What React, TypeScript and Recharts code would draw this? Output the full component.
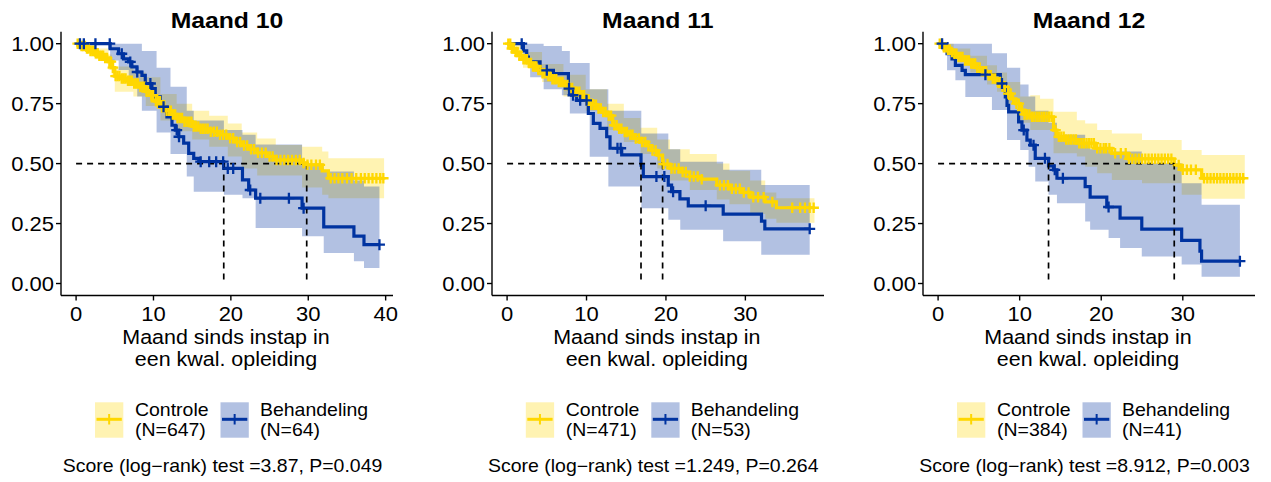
import React from "react";
import { ComposedChart, Line, Area, XAxis, YAxis } from "recharts";

const YELLOW = "#FFD700";
const BLUE = "#0033A0";
const FONT = "'Liberation Sans', Arial, Helvetica, sans-serif";
const SX = 1.1; // the reference text is drawn slightly wide

const yTicks = [0, 0.25, 0.5, 0.75, 1];

// ---------- Maand 10 ----------
const m10CtrlT = [0, 0.6, 1.2, 1.8, 2.4, 3.0, 3.6, 4.2, 4.6, 5.0, 5.8, 6.6, 7.4, 8.2, 9.0, 9.6, 10.2, 10.9, 11.6, 12.3, 13.0, 14.0, 15.0, 16.0, 17.2, 18.4, 19.6, 20.6, 21.4, 22.4, 23.4, 24.6, 25.8, 29.2, 29.8, 31.8, 32.6, 39.8];
const m10CtrlS = [1, 0.99, 0.98, 0.97, 0.96, 0.95, 0.94, 0.925, 0.9, 0.865, 0.855, 0.845, 0.834, 0.82, 0.8, 0.785, 0.76, 0.735, 0.72, 0.705, 0.69, 0.675, 0.655, 0.645, 0.633, 0.62, 0.606, 0.59, 0.575, 0.56, 0.545, 0.53, 0.515, 0.503, 0.495, 0.47, 0.439, 0.439];
const m10CtrlBandT = [0, 0.6, 2.4, 4.2, 4.6, 5.0, 7.4, 9.0, 10.9, 13.0, 15.0, 17.2, 19.6, 21.4, 23.4, 25.8, 29.2, 31.8, 32.6, 39.8];
const m10CtrlLo = [1, 0.97, 0.935, 0.89, 0.86, 0.8, 0.78, 0.74, 0.68, 0.635, 0.6, 0.57, 0.53, 0.48, 0.45, 0.45, 0.4, 0.37, 0.355, 0.355];
const m10CtrlHi = [1, 1, 0.98, 0.955, 0.935, 0.905, 0.88, 0.86, 0.79, 0.75, 0.72, 0.7, 0.667, 0.63, 0.605, 0.578, 0.57, 0.55, 0.522, 0.522];
const m10CtrlCens = [0.2, 0.45, 0.7, 0.9, 1.15, 1.4, 1.6, 1.85, 2.1, 2.3, 2.55, 2.8, 3.0, 3.25, 3.5, 3.75, 4.0, 4.3, 4.5, 4.75, 5.1, 5.35, 5.6, 5.9, 6.15, 6.4, 6.7, 6.95, 7.2, 7.5, 7.75, 8.0, 8.3, 8.6, 8.85, 9.1, 9.4, 9.7, 9.95, 10.3, 10.6, 10.85, 11.1, 11.4, 11.7, 12.0, 12.25, 12.5, 12.8, 13.1, 13.4, 13.7, 14.0, 14.3, 14.6, 14.9, 15.2, 15.5, 15.8, 16.1, 16.4, 16.7, 17.0, 17.4, 17.8, 18.2, 18.6, 19.0, 19.4, 19.9, 20.3, 20.8, 21.2, 21.7, 22.1, 22.6, 23.0, 23.5, 24.0, 24.5, 25.0, 25.4, 25.9, 26.4, 26.9, 27.4, 27.9, 28.4, 28.9, 29.4, 29.9, 30.4, 31.0, 31.5, 32.9, 33.4, 33.9, 34.4, 35.0, 35.6, 36.2, 36.8, 37.3, 37.8, 38.3, 38.8, 39.3, 39.7];

const m10TrtT = [0, 4.4, 5.48, 6.13, 6.78, 7.21, 7.86, 8.51, 8.94, 9.8, 10.23, 10.88, 11.74, 12.39, 12.82, 13.26, 13.9, 14.55, 15.2, 15.85, 19.08, 21.5, 22.3, 23.2, 29.2, 32.0, 35.9, 37.2, 39.2];
const m10TrtS = [1, 0.979, 0.958, 0.937, 0.924, 0.903, 0.882, 0.868, 0.834, 0.813, 0.778, 0.737, 0.695, 0.66, 0.64, 0.612, 0.585, 0.543, 0.522, 0.508, 0.48, 0.432, 0.39, 0.356, 0.314, 0.236, 0.198, 0.162, 0.162];
const m10TrtBandT = [0, 4.4, 5.5, 6.8, 7.9, 8.5, 10.4, 12.2, 14.3, 15.2, 19.1, 21.5, 23.2, 29.2, 32.0, 35.9, 37.2, 39.2];
const m10TrtLo = [1, 0.93, 0.89, 0.84, 0.78, 0.72, 0.63, 0.54, 0.446, 0.383, 0.37, 0.356, 0.231, 0.197, 0.127, 0.093, 0.065, 0.065];
const m10TrtHi = [1, 1, 1, 1, 1, 0.97, 0.9, 0.82, 0.72, 0.68, 0.64, 0.62, 0.58, 0.5, 0.467, 0.43, 0.404, 0.404];
const m10TrtCens = [0.5, 1.0, 2.5, 4.35, 5.9, 7.0, 7.9, 9.6, 11.3, 13.0, 13.3, 16.1, 17.2, 18.1, 19.0, 19.6, 20.3, 22.5, 23.8, 27.5, 29.4, 39.2];

// ---------- Maand 11 ----------
const m11CtrlT = [0, 0.5, 1.0, 1.5, 2.0, 2.6, 3.2, 3.8, 4.4, 5.0, 5.7, 6.4, 7.1, 7.8, 8.5, 9.2, 9.9, 10.6, 11.3, 12.0, 12.6, 13.3, 14.0, 14.7, 15.4, 16.1, 16.8, 17.5, 18.2, 18.9, 19.58, 20.5, 22.0, 23.0, 24.5, 26.4, 28.0, 29.5, 30.6, 32.5, 33.9, 38.7];
const m11CtrlS = [1, 0.98, 0.965, 0.95, 0.935, 0.92, 0.905, 0.89, 0.877, 0.865, 0.852, 0.84, 0.828, 0.815, 0.8, 0.785, 0.765, 0.745, 0.73, 0.715, 0.7, 0.66, 0.645, 0.632, 0.62, 0.605, 0.59, 0.575, 0.555, 0.535, 0.498, 0.48, 0.465, 0.446, 0.435, 0.41, 0.395, 0.38, 0.36, 0.34, 0.316, 0.316];
const m11CtrlBandT = [0, 0.5, 2.0, 4.4, 7.1, 9.9, 12.6, 14.7, 16.8, 18.9, 20.5, 23.0, 26.4, 28.0, 30.6, 32.5, 33.9, 38.7];
const m11CtrlLo = [1, 0.96, 0.9, 0.84, 0.78, 0.72, 0.64, 0.59, 0.54, 0.48, 0.43, 0.39, 0.35, 0.33, 0.29, 0.27, 0.253, 0.253];
const m11CtrlHi = [1, 1, 0.965, 0.915, 0.87, 0.81, 0.75, 0.69, 0.65, 0.6, 0.56, 0.54, 0.5, 0.47, 0.43, 0.38, 0.356, 0.356];
const m11CtrlCens = [0.15, 0.4, 0.6, 0.85, 1.1, 1.3, 1.55, 1.8, 2.05, 2.3, 2.5, 2.75, 3.0, 3.25, 3.5, 3.7, 3.95, 4.2, 4.45, 4.7, 4.95, 5.2, 5.45, 5.7, 5.95, 6.2, 6.5, 6.75, 7.0, 7.3, 7.6, 7.9, 8.2, 8.5, 8.8, 9.1, 9.4, 9.7, 10.0, 10.3, 10.6, 10.9, 11.2, 11.5, 11.8, 12.1, 12.4, 12.8, 13.1, 13.5, 13.8, 14.1, 14.4, 14.8, 15.1, 15.5, 15.8, 16.2, 16.6, 17.0, 17.4, 17.8, 18.3, 18.7, 19.1, 19.7, 20.2, 20.7, 21.1, 21.6, 22.1, 22.5, 23.0, 23.5, 24.0, 24.5, 26.8, 27.3, 27.8, 28.3, 28.8, 29.3, 29.8, 30.4, 31.0, 31.6, 32.3, 33.4, 35.9, 36.9, 37.5, 38.1, 38.6];

const m11TrtT = [0, 2.05, 2.47, 2.68, 4.15, 5.83, 7.72, 8.13, 8.76, 10.23, 10.86, 11.7, 12.54, 12.96, 14.43, 16.86, 17.15, 20.29, 20.71, 21.76, 22.81, 27.21, 32.03, 32.45, 38.1];
const m11TrtS = [1, 0.97, 0.944, 0.924, 0.889, 0.875, 0.813, 0.785, 0.764, 0.709, 0.668, 0.647, 0.612, 0.564, 0.536, 0.494, 0.446, 0.41, 0.383, 0.353, 0.324, 0.289, 0.26, 0.228, 0.228];
const m11TrtBandT = [0, 2.05, 2.9, 4.6, 6.9, 7.9, 10.4, 12.75, 16.9, 20.3, 21.8, 27.2, 32.0, 38.1];
const m11TrtLo = [1, 0.93, 0.86, 0.81, 0.785, 0.709, 0.529, 0.404, 0.314, 0.266, 0.224, 0.176, 0.12, 0.12];
const m11TrtHi = [1, 1, 1, 0.99, 0.97, 0.92, 0.81, 0.72, 0.625, 0.56, 0.508, 0.474, 0.411, 0.411];
const m11TrtCens = [1.84, 5.0, 7.8, 8.3, 9.2, 10.0, 13.9, 14.3, 18.8, 19.8, 20.9, 25.0, 38.1];

// ---------- Maand 12 ----------
const m12CtrlT = [0, 0.5, 1.0, 1.5, 1.91, 2.5, 3.2, 3.95, 4.6, 5.3, 6.0, 6.6, 7.22, 7.8, 8.45, 9.0, 9.5, 10.07, 10.6, 11.3, 14.15, 14.57, 15.5, 17.01, 19.25, 21.3, 23.33, 28.95, 29.86, 32.31, 37.6];
const m12CtrlS = [1, 0.985, 0.975, 0.965, 0.958, 0.945, 0.93, 0.917, 0.9, 0.885, 0.868, 0.855, 0.84, 0.82, 0.792, 0.77, 0.75, 0.723, 0.705, 0.695, 0.64, 0.612, 0.6, 0.585, 0.564, 0.543, 0.52, 0.494, 0.474, 0.439, 0.439];
const m12CtrlBandT = [0, 0.5, 1.91, 3.95, 6.0, 7.22, 8.45, 10.07, 11.3, 12.5, 14.15, 17.01, 18.03, 19.5, 21.3, 25.0, 29.86, 32.31, 37.6];
const m12CtrlLo = [1, 0.97, 0.93, 0.88, 0.83, 0.8, 0.75, 0.67, 0.64, 0.64, 0.543, 0.53, 0.487, 0.46, 0.432, 0.418, 0.37, 0.353, 0.353];
const m12CtrlHi = [1, 1, 0.98, 0.95, 0.91, 0.88, 0.84, 0.78, 0.785, 0.77, 0.716, 0.681, 0.667, 0.64, 0.626, 0.598, 0.557, 0.536, 0.536];
const m12CtrlCens = [0.2, 0.45, 0.7, 0.95, 1.2, 1.45, 1.7, 2.0, 2.25, 2.5, 2.75, 3.0, 3.3, 3.55, 3.8, 4.05, 4.3, 4.55, 4.8, 5.1, 5.35, 5.6, 5.9, 6.2, 6.45, 6.7, 7.0, 7.3, 7.6, 7.9, 8.2, 8.6, 8.9, 9.2, 9.6, 9.9, 10.3, 10.6, 10.9, 11.2, 11.5, 11.8, 12.1, 12.4, 12.7, 13.0, 13.3, 13.6, 13.9, 14.4, 14.8, 15.1, 15.4, 15.7, 16.0, 16.3, 16.6, 16.9, 17.3, 17.6, 17.9, 18.2, 18.5, 18.8, 19.1, 19.5, 19.9, 20.3, 20.6, 21.0, 21.7, 22.4, 23.0, 23.4, 23.8, 24.2, 24.6, 25.0, 25.4, 25.8, 26.2, 26.6, 27.0, 27.4, 27.8, 28.2, 28.6, 29.5, 30.0, 30.5, 31.0, 31.6, 32.6, 33.0, 33.4, 33.8, 34.2, 34.6, 35.0, 35.4, 35.8, 36.2, 36.6, 37.0, 37.4];

const m12TrtT = [0, 1.1, 1.71, 2.12, 2.94, 3.34, 7.63, 8.24, 8.45, 8.65, 9.87, 10.28, 10.89, 11.3, 11.91, 13.54, 14.15, 14.57, 18.03, 18.64, 20.68, 22.31, 24.97, 29.86, 32.1, 32.3, 37.0];
const m12TrtS = [1, 0.958, 0.937, 0.91, 0.889, 0.871, 0.834, 0.778, 0.743, 0.716, 0.674, 0.64, 0.598, 0.577, 0.522, 0.49, 0.474, 0.439, 0.404, 0.36, 0.319, 0.273, 0.227, 0.18, 0.135, 0.093, 0.093];
const m12TrtBandT = [0, 1.1, 2.12, 3.34, 6.6, 8.45, 10.07, 11.09, 11.91, 13.54, 14.57, 18.03, 18.64, 20.9, 22.31, 24.97, 29.86, 32.3, 37.0];
const m12TrtLo = [1, 0.889, 0.848, 0.778, 0.723, 0.598, 0.557, 0.487, 0.425, 0.37, 0.335, 0.259, 0.224, 0.19, 0.148, 0.113, 0.079, 0.028, 0.028];
const m12TrtHi = [1, 1, 1, 1, 0.96, 0.9, 0.83, 0.78, 0.72, 0.67, 0.62, 0.58, 0.56, 0.55, 0.55, 0.501, 0.418, 0.328, 0.328];
const m12TrtCens = [0.49, 5.8, 7.83, 10.5, 11.7, 13.1, 14.3, 15.3, 20.9, 37.0];

const panelTitles = ["Maand 10", "Maand 11", "Maand 12"];
const ctrlN = [647, 471, 384];
const trtN = [64, 53, 41];
const scoreTexts = [
  "Score (log\u2212rank) test =3.87, P=0.049",
  "Score (log\u2212rank) test =1.249, P=0.264",
  "Score (log\u2212rank) test =8.912, P=0.003",
];
const xTicksByPanel = [[0, 10, 20, 30, 40], [0, 10, 20, 30], [0, 10, 20, 30]];
const xDomains = [[-1.95, 40.95], [-1.9, 39.9], [-1.85, 38.85]];
const panelOffsets = [0, 430.8, 862];

type Group = { t: number[]; s: number[]; bandT: number[]; lo: number[]; hi: number[]; cens: number[] };

const groups: { ctrl: Group; trt: Group }[] = [
  {
    ctrl: { t: m10CtrlT, s: m10CtrlS, bandT: m10CtrlBandT, lo: m10CtrlLo, hi: m10CtrlHi, cens: m10CtrlCens },
    trt: { t: m10TrtT, s: m10TrtS, bandT: m10TrtBandT, lo: m10TrtLo, hi: m10TrtHi, cens: m10TrtCens },
  },
  {
    ctrl: { t: m11CtrlT, s: m11CtrlS, bandT: m11CtrlBandT, lo: m11CtrlLo, hi: m11CtrlHi, cens: m11CtrlCens },
    trt: { t: m11TrtT, s: m11TrtS, bandT: m11TrtBandT, lo: m11TrtLo, hi: m11TrtHi, cens: m11TrtCens },
  },
  {
    ctrl: { t: m12CtrlT, s: m12CtrlS, bandT: m12CtrlBandT, lo: m12CtrlLo, hi: m12CtrlHi, cens: m12CtrlCens },
    trt: { t: m12TrtT, s: m12TrtS, bandT: m12TrtBandT, lo: m12TrtLo, hi: m12TrtHi, cens: m12TrtCens },
  },
];

// survival value of a step curve at time t
const stepAt = (ts: number[], ss: number[], t: number) => {
  let v = ss[0];
  for (let i = 0; i < ts.length; i++) if (ts[i] <= t) v = ss[i];
  return v;
};
const medianOf = (g: Group) => g.t[g.s.findIndex((s) => s <= 0.5)];

const lineData = (g: Group) => g.t.map((t, i) => ({ t, s: g.s[i] }));
const bandData = (g: Group) => g.bandT.map((t, i) => ({ t, range: [g.lo[i], g.hi[i]] }));
const censData = (g: Group) => g.cens.map((t) => ({ t, s: stepAt(g.t, g.s, t) }));

// layout
const PLOT_LEFT = 61;
const PLOT_W = 332;
const PLOT_TOP = 31.7;
const PLOT_H = 263.8;
const Y_AXIS_W = 55;
const X_AXIS_H = 30;
const CHART_H = 340;

const plus = (color: string, size: number, width: number) => (props: any) => {
  const { cx, cy, index } = props;
  if (cx == null || cy == null) return <g key={`n${index}`} />;
  const h = size / 2;
  return (
    <path
      key={`c${index}`}
      d={`M${cx - h},${cy}H${cx + h}M${cx},${cy - h}V${cy + h}`}
      stroke={color}
      strokeWidth={width}
      fill="none"
    />
  );
};

const XTick = (props: any) => {
  const { x, y, payload } = props;
  return (
    <text
      transform={`translate(${x},${y + 18}) scale(${SX},1)`}
      textAnchor="middle"
      fontSize={20}
      fontFamily={FONT}
      fill="#000"
    >
      {payload.value}
    </text>
  );
};

const YTick = (props: any) => {
  const { x, y, payload } = props;
  return (
    <text
      transform={`translate(${x},${y + 7.2}) scale(${SX},1)`}
      textAnchor="end"
      fontSize={20}
      fontFamily={FONT}
      fill="#000"
    >
      {Number(payload.value).toFixed(2)}
    </text>
  );
};

const Panel = ({ idx }: { idx: number }) => {
  const { ctrl, trt } = groups[idx];
  const mC = medianOf(ctrl);
  const mT = medianOf(trt);
  const mMax = Math.max(mC, mT);
  const left = PLOT_LEFT + panelOffsets[idx];
  const dash = { stroke: "#000", strokeWidth: 1.7, strokeDasharray: "6 5" };
  return (
    <div style={{ position: "absolute", left: left - Y_AXIS_W, top: 0 }}>
      <ComposedChart
        width={Y_AXIS_W + PLOT_W + 6}
        height={CHART_H}
        margin={{ top: PLOT_TOP, right: 6, left: 0, bottom: CHART_H - PLOT_TOP - PLOT_H - X_AXIS_H }}
      >
        <XAxis
          dataKey="t"
          type="number"
          domain={xDomains[idx]}
          ticks={xTicksByPanel[idx]}
          allowDataOverflow
          height={X_AXIS_H}
          tickSize={5}
          tickMargin={2}
          interval={0}
          axisLine={{ stroke: "#000", strokeWidth: 1.4 }}
          tickLine={{ stroke: "#000", strokeWidth: 1.4 }}
          tick={XTick}
        />
        <YAxis
          type="number"
          domain={[-0.05, 1.05]}
          ticks={yTicks}
          allowDataOverflow
          width={Y_AXIS_W}
          tickSize={5}
          tickMargin={2}
          interval={0}
          axisLine={{ stroke: "#000", strokeWidth: 1.4 }}
          tickLine={{ stroke: "#000", strokeWidth: 1.4 }}
          tick={YTick}
        />
        <Line data={lineData(ctrl)} dataKey="s" type="stepAfter" stroke={YELLOW} strokeWidth={3.2} dot={false} activeDot={false} isAnimationActive={false} />
        <Line data={lineData(trt)} dataKey="s" type="stepAfter" stroke={BLUE} strokeWidth={3.2} dot={false} activeDot={false} isAnimationActive={false} />
        <Area data={bandData(ctrl)} dataKey="range" type="stepAfter" fill={YELLOW} fillOpacity={0.3} stroke="none" isAnimationActive={false} />
        <Area data={bandData(trt)} dataKey="range" type="stepAfter" fill={BLUE} fillOpacity={0.3} stroke="none" isAnimationActive={false} />
        <Line data={censData(ctrl)} dataKey="s" stroke="none" dot={plus(YELLOW, 10.5, 2.3)} activeDot={false} isAnimationActive={false} />
        <Line data={censData(trt)} dataKey="s" stroke="none" dot={plus(BLUE, 11, 2.3)} activeDot={false} isAnimationActive={false} />
        <Line data={[{ t: 0, s: 0.5 }, { t: mMax, s: 0.5 }]} dataKey="s" {...dash} dot={false} activeDot={false} isAnimationActive={false} />
        <Line data={[{ t: mC, s: 0.5 }, { t: mC, s: 0 }]} dataKey="s" {...dash} dot={false} activeDot={false} isAnimationActive={false} />
        <Line data={[{ t: mT, s: 0.5 }, { t: mT, s: 0 }]} dataKey="s" {...dash} dot={false} activeDot={false} isAnimationActive={false} />
      </ComposedChart>
    </div>
  );
};

const Txt = ({ x, y, size, anchor = "middle", bold = false, children }: any) => (
  <text
    transform={`translate(${x},${y}) scale(${SX},1)`}
    textAnchor={anchor}
    fontSize={size}
    fontWeight={bold ? "bold" : "normal"}
    fontFamily={FONT}
    fill="#000"
  >
    {children}
  </text>
);

const LegendKey = ({ x, color }: { x: number; color: string }) => (
  <g>
    <rect x={x} y={402.3} width={28.3} height={35.4} fill={color} fillOpacity={0.3} />
    <line x1={x + 1.5} x2={x + 26.8} y1={419.3} y2={419.3} stroke={color} strokeWidth={3} />
    <line x1={x + 14.15} x2={x + 14.15} y1={414} y2={424.5} stroke={color} strokeWidth={2} />
  </g>
);

const Overlay = () => (
  <svg width={1271} height={482} style={{ position: "absolute", left: 0, top: 0, pointerEvents: "none" }}>
    {panelTitles.map((title, i) => {
      const ox = panelOffsets[i];
      const cx = PLOT_LEFT + PLOT_W / 2 + ox;
      return (
        <g key={title}>
          <Txt x={cx} y={28.3} size={22.5} bold>{title}</Txt>
          <Txt x={cx - 1} y={344} size={19.5}>Maand sinds instap in</Txt>
          <Txt x={cx - 1} y={366} size={19.5}>een kwal. opleiding</Txt>
          <LegendKey x={95 + ox} color={YELLOW} />
          <Txt x={135 + ox} y={416} size={17.7} anchor="start">Controle</Txt>
          <Txt x={135 + ox} y={435.5} size={17.7} anchor="start">{`(N=${ctrlN[i]})`}</Txt>
          <LegendKey x={220.5 + ox} color={BLUE} />
          <Txt x={260 + ox} y={416} size={17.7} anchor="start">Behandeling</Txt>
          <Txt x={260 + ox} y={435.5} size={17.7} anchor="start">{`(N=${trtN[i]})`}</Txt>
          <Txt x={222.5 + ox} y={471.5} size={17.7}>{scoreTexts[i]}</Txt>
        </g>
      );
    })}
  </svg>
);

export default function App() {
  return (
    <div style={{ position: "absolute", left: 0, top: 0, width: 1271, height: 482, background: "#fff", fontFamily: FONT }}>
      <Panel idx={0} />
      <Panel idx={1} />
      <Panel idx={2} />
      <Overlay />
    </div>
  );
}
